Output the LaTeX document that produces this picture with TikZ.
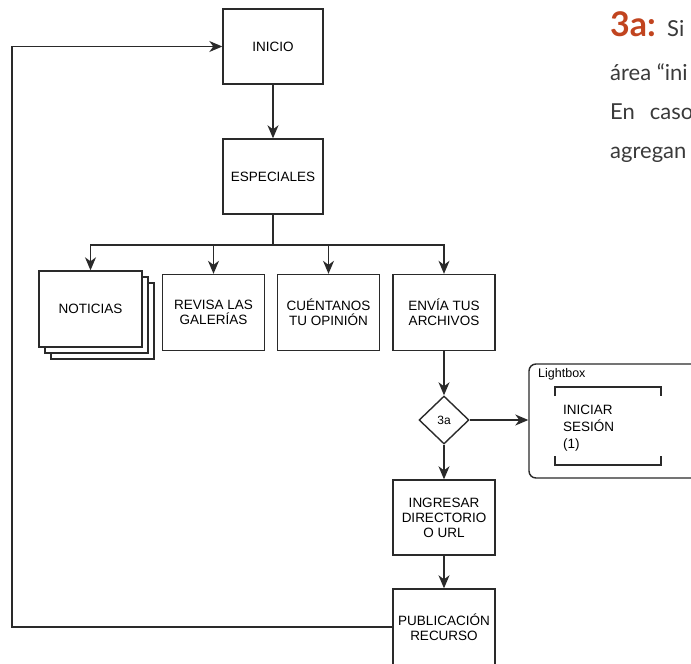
\documentclass[tikz,border=0pt]{standalone}
\usepackage{fontspec}
\setmainfont{Liberation Sans}
\newfontfamily\notefont{Lato}
\usepackage{tikz}
\usetikzlibrary{arrows.meta,shapes.geometric}
\definecolor{rust}{HTML}{C1441F}
\definecolor{ink}{HTML}{2A2A2A}
\definecolor{notegray}{HTML}{3A3A3A}

\begin{document}
\begin{tikzpicture}[x=1pt, y=-1pt,
  box/.style={draw=ink, line width=1.4pt, fill=white, minimum width=102pt, minimum height=76pt, align=center, inner sep=2pt, font=\fontsize{13.5}{15}\selectfont},
  arr/.style={-{Stealth[length=13pt,width=11pt,inset=4pt]}, draw=ink, line width=1.4pt},
  note/.style={anchor=base west, inner sep=0pt, text=notegray, font=\notefont\fontsize{22}{22}\selectfont}
]
\useasboundingbox (0,0) rectangle (691,664);
\clip (0,0) rectangle (691,664);
\node[box, minimum width=100pt, minimum height=75pt] (inicio) at (273,46.5) {INICIO};
\node[box, minimum width=100pt, minimum height=75pt] (esp) at (273,176.5) {ESPECIALES};
\node[box, minimum width=103pt] (not3) at (102.5,321) {};
\node[box, minimum width=103pt] (not2) at (96.5,315) {};
\node[box, minimum width=103pt] (not) at (90.5,309) {NOTICIAS};
\node[box] (rev) at (213.5,312.5) {REVISA LAS\\GALERÍAS};
\node[box] (cue) at (328.5,312.5) {CUÉNTANOS\\TU OPINIÓN};
\node[box] (env) at (444,312.5) {ENVÍA TUS\\ARCHIVOS};
\node[draw=ink, line width=1.4pt, diamond, aspect=1, minimum width=50pt, minimum height=48pt, inner sep=0pt, font=\fontsize{12}{12}\selectfont] (dec) at (444,420) {3a};
\node[box, minimum height=75pt] (ing) at (444,517.5) {INGRESAR\\DIRECTORIO\\O URL};
\node[box] (pub) at (444,627) {PUBLICACIÓN\\RECURSO};
% lightbox
\node[draw=ink, line width=1.4pt, rounded corners=7pt, minimum width=180pt, minimum height=114pt] (lightbox) at (619,421) {};
\node[anchor=base west, inner sep=0pt, font=\fontsize{12.5}{12.5}\selectfont] (lbtitle) at (538,377) {Lightbox};
\node[anchor=west, align=left, inner sep=0pt, font=\fontsize{13.5}{17}\selectfont] (login) at (563,428) {INICIAR\\SESIÓN\\(1)};
\draw[ink, line width=1.2pt] (555,396) |- (661,387) -- (661,396);
\draw[ink, line width=1.2pt] (555,456) |- (661,465) -- (661,456);
% connectors
\draw[arr] (inicio) -- (esp);
\draw[ink, line width=1.4pt] (esp.south) -- (273,245) coordinate (split);
\foreach \n in {not,rev,cue,env}
  \draw[arr] (split) -| (\n.north);
\draw[arr] (env) -- (dec);
\draw[arr] (dec.east) -- (dec.east -| lightbox.west);
\draw[arr] (dec) -- (ing);
\draw[arr] (ing) -- (pub);
\draw[arr] (pub.west) -| (12,300) |- (inicio.west);
% note
\node[note, text=rust, font=\notefont\bfseries\fontsize{34}{34}\selectfont] (notehead) at (610,36) {3a:};
\node[note] (note1) at (667,36) {Si};
\node[note] (note2) at (610,80) {área “ini};
\node[note] (note3) at (610,119) {En\hspace{15pt}caso};
\node[note] (note4) at (610,158) {agregan};
\end{tikzpicture}
\end{document}
